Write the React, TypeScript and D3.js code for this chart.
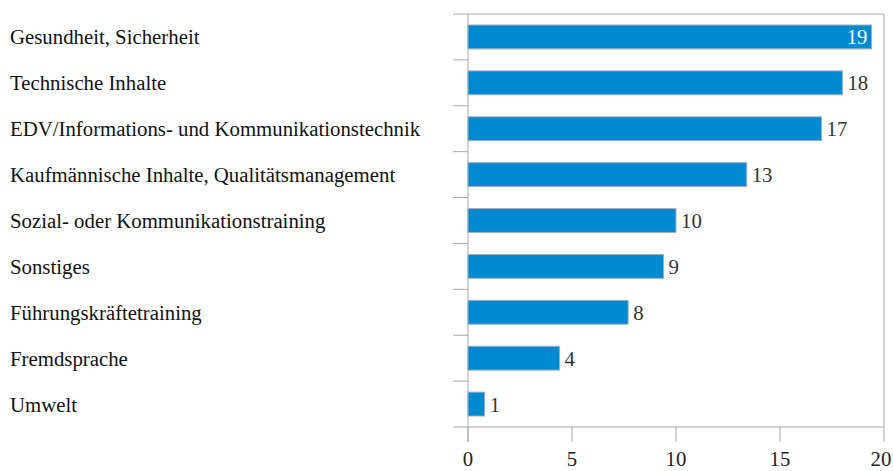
import React from "react";
import * as d3 from "d3";

const categories = [
  "Gesundheit, Sicherheit",
  "Technische Inhalte",
  "EDV/Informations- und Kommunikationstechnik",
  "Kaufmännische Inhalte, Qualitätsmanagement",
  "Sozial- oder Kommunikationstraining",
  "Sonstiges",
  "Führungskräftetraining",
  "Fremdsprache",
  "Umwelt",
];
const values = [19.4, 18.0, 17.0, 13.4, 10.0, 9.4, 7.7, 4.4, 0.8];
const xTicks = [0, 5, 10, 15, 20];

const W = 893;
const H = 471;
const left = 468;
const right = 884;
const top = 14;
const bottom = 427;
const FONT = "\"Liberation Serif\", \"Times New Roman\", serif";
const FS = 20.8;
const BAR = "#0088d1";
const GRID = "#a9a9a9";

export default function App() {
  const x = d3.scaleLinear().domain([0, 20]).range([left, right]);
  const y = d3.scaleBand<string>().domain(categories).range([top, bottom]).paddingInner(0.48).paddingOuter(0.24);
  const band = d3.scaleBand<string>().domain(categories).range([top, bottom]);

  return (
    <svg width={W} height={H} style={{ position: "absolute", left: 0, top: 0, fontFamily: FONT }}>
      <line x1={left - 15} x2={right} y1={top} y2={top} stroke={GRID} strokeWidth={1} />
      <line x1={right} x2={right} y1={top} y2={bottom} stroke={GRID} strokeWidth={1} />
      <line x1={left - 15} x2={right} y1={bottom} y2={bottom} stroke={GRID} strokeWidth={1} />
      <line x1={left} x2={left} y1={top} y2={bottom + 15} stroke={GRID} strokeWidth={1} />
      {categories.slice(1).map((c) => (
        <line key={"s" + c} x1={left - 15} x2={left} y1={band(c)!} y2={band(c)!} stroke={GRID} strokeWidth={1} />
      ))}
      {xTicks.map((t) => (
        <g key={"t" + t}>
          <line x1={x(t)} x2={x(t)} y1={bottom} y2={bottom + 15} stroke={GRID} strokeWidth={1} />
          <text x={t === 20 ? x(t) - 3 : x(t)} y={466} textAnchor="middle" fontSize={FS} fill="#222" style={{ fontFamily: FONT }}>
            {t}
          </text>
        </g>
      ))}
      {categories.map((c, i) => {
        const v = values[i];
        const y0 = y(c)!;
        const h = y.bandwidth();
        const cy = band(c)! + band.bandwidth() / 2;
        const inside = x(v) + 30 > right;
        return (
          <g key={c}>
            <text x={10} y={cy} dominantBaseline="central" fontSize={FS} fill="#111" style={{ fontFamily: FONT }}>
              {c}
            </text>
            <rect x={left} y={y0} width={x(v) - left} height={h} fill={BAR} stroke="#9fb0bd" strokeWidth={1} />
            <text
              x={inside ? x(v) - 4 : x(v) + 5}
              y={y0 + h / 2}
              dominantBaseline="central"
              textAnchor={inside ? "end" : "start"}
              fontSize={FS}
              fill={inside ? "#fff" : "#333"}
              style={{ fontFamily: FONT }}
            >
              {Math.round(v)}
            </text>
          </g>
        );
      })}
    </svg>
  );
}
